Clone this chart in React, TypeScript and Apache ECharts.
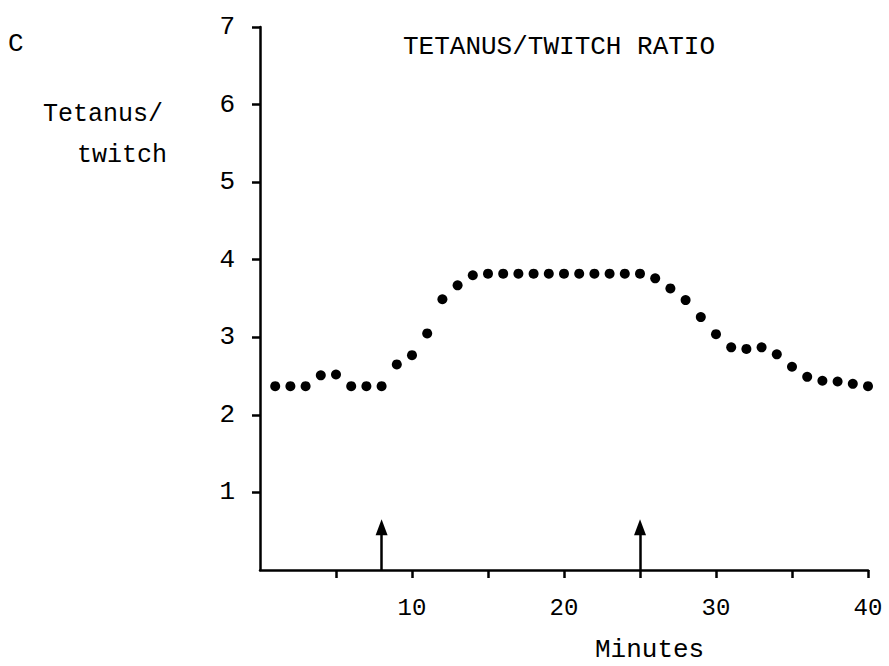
import React, { useEffect, useRef } from "react";
import * as echarts from "echarts";

const minutes = [
  1, 2, 3, 4, 5, 6, 7, 8, 9, 10,
  11, 12, 13, 14, 15, 16, 17, 18, 19, 20,
  21, 22, 23, 24, 25, 26, 27, 28, 29, 30,
  31, 32, 33, 34, 35, 36, 37, 38, 39, 40,
];
const ratio = [
  2.37, 2.37, 2.37, 2.51, 2.52, 2.37, 2.37, 2.37, 2.65, 2.77,
  3.05, 3.49, 3.67, 3.8, 3.82, 3.82, 3.82, 3.82, 3.82, 3.82,
  3.82, 3.82, 3.82, 3.82, 3.82, 3.76, 3.63, 3.48, 3.26, 3.04,
  2.87, 2.85, 2.87, 2.78, 2.62, 2.49, 2.44, 2.43, 2.4, 2.37,
];
const arrowMinutes = [8, 25];
const arrowTop = 0.55;
const xTickValues = [5, 10, 15, 20, 25, 30, 35, 40];
const xLabelValues = [10, 20, 30, 40];
const yTickValues = [1, 2, 3, 4, 5, 6, 7];

const FONT = "'Liberation Mono', 'DejaVu Sans Mono', monospace";
const INK = "#000";

export default function App() {
  const ref = useRef<HTMLDivElement>(null);
  useEffect(() => {
    if (!ref.current) return;
    const chart = echarts.init(ref.current, undefined, { renderer: "svg" });
    const points = minutes.map((m, i) => [m, ratio[i]]);
    chart.setOption({
      animation: false,
      backgroundColor: "#fff",
      grid: { left: 260, right: 21, top: 27, bottom: 96 },
      xAxis: {
        type: "value",
        min: 0,
        max: 40,
        interval: 5,
        splitLine: { show: false },
        axisLine: { show: true, lineStyle: { color: "#000", width: 2.5 } },
        axisTick: {
          show: true,
          length: 8,
          customValues: xTickValues,
          lineStyle: { color: "#000", width: 2.5 },
        },
        axisLabel: {
          customValues: xLabelValues,
          fontFamily: FONT,
          fontSize: 24,
          color: INK,
          margin: 26,
        },
      },
      yAxis: {
        type: "value",
        min: 0,
        max: 7,
        interval: 1,
        splitLine: { show: false },
        axisLine: { show: true, lineStyle: { color: "#000", width: 2.5 } },
        axisTick: {
          show: true,
          length: 8,
          customValues: yTickValues,
          lineStyle: { color: "#000", width: 2.5 },
        },
        axisLabel: {
          customValues: yTickValues,
          fontFamily: FONT,
          fontSize: 26,
          color: INK,
          margin: 25,
        },
      },
      series: [
        {
          type: "scatter",
          data: points,
          symbol: "circle",
          symbolSize: 10,
          itemStyle: { color: "#000", opacity: 1 },
          markLine: {
            silent: true,
            symbol: ["none", "triangle"],
            symbolSize: [12, 16],
            label: { show: false },
            lineStyle: { color: "#000", width: 2.5, type: "solid", opacity: 1 },
            data: arrowMinutes.map((m) => [
              { coord: [m, 0] },
              { coord: [m, arrowTop] },
            ]),
          },
        },
      ],
      graphic: [
        {
          type: "text",
          left: 8,
          top: 31,
          style: { text: "C", font: `26px ${FONT}`, fill: INK },
        },
        {
          type: "text",
          left: 43,
          top: 102,
          style: { text: "Tetanus/", font: `25px ${FONT}`, fill: INK },
        },
        {
          type: "text",
          left: 77,
          top: 143,
          style: { text: "twitch", font: `25px ${FONT}`, fill: INK },
        },
        {
          type: "text",
          left: 403,
          top: 34,
          style: { text: "TETANUS/TWITCH RATIO", font: `26px ${FONT}`, fill: INK },
        },
        {
          type: "text",
          left: 595,
          top: 637,
          style: { text: "Minutes", font: `26px ${FONT}`, fill: INK },
        },
      ],
    });
    return () => chart.dispose();
  }, []);
  return (
    <div
      ref={ref}
      style={{ position: "fixed", left: 0, top: 0, width: 889, height: 666 }}
    />
  );
}
